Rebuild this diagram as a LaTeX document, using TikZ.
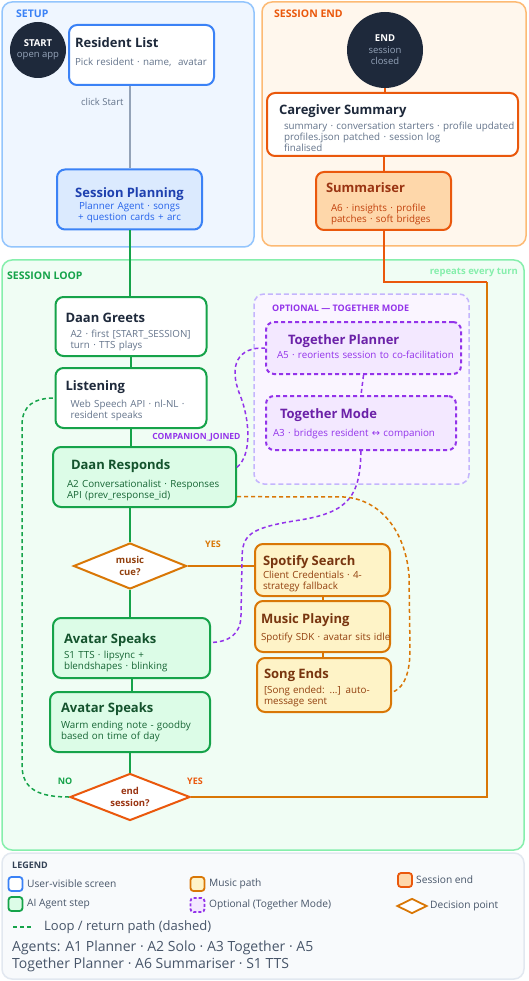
\documentclass[tikz,border=0pt]{standalone}
\usepackage{fontspec}
\setmainfont{Open Sans}
\newfontfamily\symfont{DejaVu Sans}
\usetikzlibrary{shapes.geometric}

\definecolor{navy}{HTML}{1E293B}
\definecolor{slate}{HTML}{64748B}
\definecolor{greyln}{HTML}{94A3B8}
\definecolor{blu}{HTML}{3B82F6}
\definecolor{blubg}{HTML}{EFF6FF}
\definecolor{bluln}{HTML}{93C5FD}
\definecolor{blufill}{HTML}{DBEAFE}
\definecolor{bluttl}{HTML}{1E40AF}
\definecolor{blusub}{HTML}{2563EB}
\definecolor{orng}{HTML}{EA580C}
\definecolor{orngbg}{HTML}{FFF7ED}
\definecolor{orngln}{HTML}{FDBA74}
\definecolor{orngfill}{HTML}{FED7AA}
\definecolor{orngttl}{HTML}{9A3412}
\definecolor{orngsub}{HTML}{C2410C}
\definecolor{grn}{HTML}{16A34A}
\definecolor{grnbg}{HTML}{F0FDF4}
\definecolor{grnln}{HTML}{86EFAC}
\definecolor{grnfill}{HTML}{DCFCE7}
\definecolor{grnttl}{HTML}{14532D}
\definecolor{grnsub}{HTML}{166534}
\definecolor{purp}{HTML}{9333EA}
\definecolor{purpbg}{HTML}{FAF5FF}
\definecolor{purpln}{HTML}{C4B5FD}
\definecolor{purpfill}{HTML}{F3E8FF}
\definecolor{purpttl}{HTML}{6B21A8}
\definecolor{amb}{HTML}{D97706}
\definecolor{ambfill}{HTML}{FEF3C7}
\definecolor{ambttl}{HTML}{78350F}
\definecolor{ambsub}{HTML}{92400E}
\definecolor{legbg}{HTML}{F8FAFC}
\definecolor{legln}{HTML}{E2E8F0}
\definecolor{legtxt}{HTML}{475569}
\definecolor{legttl}{HTML}{334155}
\colorlet{subc}{slate}

\newcommand\bx[3][4pt]{{\fontsize{13}{15}\selectfont\bfseries #2}\\[#1]{\color{subc}\begin{tabular}[t]{@{}l@{}}#3\end{tabular}}}

\tikzset{
  panel/.style={line width=1.5pt,rounded corners=10},
  seclbl/.style={anchor=west,inner sep=0pt,font=\fontsize{10.5}{12}\selectfont\bfseries},
  sz/.style n args={5}{minimum width=#1pt,minimum height=#2pt,text width=#3pt,text height=#4pt,text depth=#5pt},
  box/.style={draw,rectangle,rounded corners=8,line width=2pt,align=left,inner sep=0pt,
    font=\fontsize{9.8}{11}\selectfont},
  screen/.style={box,draw=blu,fill=white,text=navy,execute at begin node={\colorlet{subc}{slate}}},
  loopscreen/.style={box,draw=grn,fill=white,text=navy,execute at begin node={\colorlet{subc}{slate}}},
  agent/.style={box,draw=grn,fill=grnfill,text=grnttl,execute at begin node={\colorlet{subc}{grnsub}}},
  music/.style={box,draw=amb,fill=ambfill,text=ambttl,execute at begin node={\colorlet{subc}{ambsub}}},
  optional/.style={box,dashed,dash pattern=on 4pt off 3pt,draw=purp,fill=purpfill,text=purpttl,
    execute at begin node={\colorlet{subc}{purp}}},
  endbox/.style={box,draw=orng,fill=orngfill,text=orngttl,execute at begin node={\colorlet{subc}{orngsub}}},
  terminal/.style={circle,fill=navy,text=white,align=center,inner sep=0pt,
    font=\fontsize{9.5}{11}\selectfont},
  decision/.style={diamond,aspect=2.4,draw,line width=2pt,fill=white,inner sep=0pt,align=center,
    font=\fontsize{9.5}{11.5}\selectfont\bfseries},
  flow/.style={line width=2pt,draw=grn},
  ret/.style={line width=1.5pt,dash pattern=on 4pt off 3pt},
  tag/.style={inner sep=0pt,font=\fontsize{9}{10}\selectfont\bfseries},
  legsq/.style={rectangle,rounded corners=3,line width=1.8pt,minimum size=14pt,inner sep=0pt},
  legtext/.style={anchor=west,inner sep=0pt,text=legtxt,font=\fontsize{10.2}{12}\selectfont},
}

\begin{document}
\begin{tikzpicture}[x=1pt,y=-1pt]
\useasboundingbox[fill=white](0,0)rectangle(528,981);
%panels
\path[draw=bluln,fill=blubg,panel](2,2)rectangle(254,247);
\path[draw=orngln,fill=orngbg,panel](262,2)rectangle(526,246);
\path[draw=grnln,fill=grnbg,panel](2,260)rectangle(524,850);
\path[draw=purpln,fill=purpbg,panel,dash pattern=on 5pt off 3pt](254,294)rectangle(469,484);
\path[draw=legln,fill=legbg,panel](2,853)rectangle(524,979);
\node[seclbl,text=blu](setuplbl)at(16,13.5){SETUP};
\node[seclbl,text=orng](endlbl)at(274,13.5){SESSION END};
\node[seclbl,text=grn](looplbl)at(7,276){SESSION LOOP};
\node[seclbl,anchor=east,text=grnln,font=\fontsize{9.5}{11}\selectfont\bfseries](repeatlbl)at(518,272){repeats every turn};
\node[tag,anchor=west,text=purp](optlbl)at(272,308){OPTIONAL — TOGETHER MODE};

%setup
\node[terminal,minimum size=56pt](start)at(38,50){{\bfseries START}\\{\color{greyln}open app}};
\node[screen,sz={145}{60}{133}{23}{37}](rl)at(141.5,55){\bx[7pt]{Resident List}{Pick resident · name,\ \ avatar}};
\node[screen,sz={145}{60}{133}{28}{32},fill=blufill,text=bluttl,align=center](sp)at(129.5,199.5)
  {{\fontsize{13}{15}\selectfont\bfseries Session Planning}\\[1pt]{\color{blusub}Planner Agent · songs}\\{\color{blusub}+ question cards + arc}};
\path[draw=greyln,line width=2pt](sp.north|-rl.south)to node[pos=0.19,left=5pt,inner sep=0pt,text=slate,font=\fontsize{9.5}{11}\selectfont](clk){click Start}(sp.north);

%session end
\node[terminal,minimum size=76pt](endc)at(385,50){{\bfseries END}\\[1pt]{\color{greyln}session}\\{\color{greyln}closed}};
\node[screen,draw=orng,sz={251}{63}{227}{22}{41}](cg)at(392.5,124.5)
  {\bx{Caregiver Summary}{\hspace*{5pt}summary · conversation starters · profile updated\\\hspace*{5pt}profiles.json patched · session log\\\hspace*{5pt}finalised}};
\node[endbox,sz={135}{58}{115}{21}{37}](sm)at(383.5,201){\bx[8pt]{Summariser}{\hspace*{5pt}A6 · insights · profile\\\hspace*{5pt}patches · soft bridges}};
\path[draw=orng,line width=2pt](endc.south)to(endc.south|-cg.north);
\path[draw=orng,line width=2pt](sm.north|-cg.south)to(sm.north);

%session loop
\node[loopscreen,sz={151}{59}{131}{25}{34}](dg)at(131,326.5){\bx{Daan Greets}{\hspace*{5pt}A2 · first [START\_SESSION]\\\hspace*{5pt}turn · TTS plays}};
\node[loopscreen,sz={151}{60}{131}{22}{38}](ls)at(131,398){\bx[6pt]{Listening}{\hspace*{5pt}Web Speech API · nl-NL ·\\\hspace*{5pt}resident speaks}};
\node[agent,sz={183}{60}{155}{22}{38}](dr)at(144.5,477){\bx[7pt]{\hspace*{4pt}Daan Responds}{A2 Conversationalist · Responses\\API (prev\_response\_id)}};
\node[decision,draw=amb,text=ambsub,minimum width=113pt,minimum height=46pt](mc)at(130,566){music\\cue?};
\node[agent,sz={157}{60}{135}{25}{35}](as1)at(131.5,648){\bx{Avatar Speaks}{S1 TTS · lipsync +\\blendshapes · blinking}};
\node[agent,sz={160}{60}{138}{20}{40}](as2)at(130,722){\bx[5pt]{Avatar Speaks}{Warm ending note - goodby\\based on time of day}};
\node[decision,draw=orng,text=orngttl,minimum width=120pt,minimum height=47pt](es)at(130,797){end\\session?};
\path[flow](sp.south)to(sp.south|-dg.north);
\path[flow](dg.south)to(ls.north);
\path[flow](ls.south)to(ls.south|-dr.north);
\path[flow](mc.north|-dr.south)to(mc.north);
\path[flow](mc.south)to(mc.south|-as1.north);
\path[flow](as1.south)to(as1.south|-as2.north);
\path[flow](as2.south)to(es.north);
\node[tag,text=purp,font=\fontsize{8.5}{10}\selectfont\bfseries](cj)at(196.5,437.5){COMPANION\_JOINED};
\node[tag,text=amb](yes1)at(213,544){YES};
\node[tag,text=grn](no)at(65,781){NO};
\node[tag,text=orng](yes2)at(195,781){YES};

%together mode
\node[optional,sz={195}{52}{173}{22}{30}](tp)at(363.5,348){\bx[3pt]{\hspace*{11pt}Together Planner}{A5 · reorients session to co-facilitation}};
\node[optional,sz={190}{54}{176}{22}{32}](tm)at(361,423){\bx[7pt]{\hspace*{7pt}Together Mode}{A3 · bridges resident {\symfont ↔} companion}};
\path[draw=purp,ret](tp.south)to(tm.north);

%music
\node[music,sz={135}{52}{119}{21}{31}](ss)at(322.5,570){\bx[2pt]{Spotify Search}{Client Credentials · 4-\\strategy fallback}};
\node[music,sz={135}{51}{123}{22}{29}](mp)at(322.5,626.5){\bx[6pt]{Music Playing}{Spotify SDK · avatar sits idle}};
\node[music,sz={134}{54}{120}{20}{34}](se)at(324,685){\bx{Song Ends}{[Song ended: ...] auto-\\message sent}};
\path[draw=amb,line width=2pt](mc.east)to(mc.east-|ss.west);
\path[draw=amb,line width=2pt](ss.south)to(ss.south|-mp.north);
\path[draw=amb,line width=2pt](mp.south)to(mp.south|-se.north);

%return paths
\coordinate(turn)at(487,282);
\path[draw=amb,line width=2pt](es.east)-|(turn);
\path[draw=orng,line width=2pt](turn)-|(sm.south);
\path[draw=grn,ret](es.west)..controls(40,797)and(22,790)..(22,765)--(22,425)..controls(22,405)and(35,398)..(ls.west);
\path[draw=purp,ret](dr.6)..controls(252,455)and(250,420)..(240,395)..controls(228,365)and(238,347)..(tp.west);
\path[draw=purp,ret](tm.south)..controls(360,495)and(350,512)..(300,520)..controls(248,528)and(242,535)..(242,560)--(241,615)..controls(241,635)and(228,642)..(as1.4);
\path[draw=amb,ret](dr.-12)--(345,497)..controls(380,500)and(405,530)..(409,575)--(410,650)..controls(410,680)and(400,690)..(se.-6);

%legend
\node[tag,anchor=west,text=legttl](leglbl)at(12,865){LEGEND};
\node[legsq,draw=blu,fill=white](lgscr)at(15.5,884){};
\node[legtext](lgscrt)at(27,884){User-visible screen};
\node[legsq,draw=grn,fill=grnfill](lgag)at(15.5,904){};
\node[legtext](lgagt)at(27,904){AI Agent step};
\node[legsq,draw=amb,fill=ambfill](lgmu)at(197.5,884){};
\node[legtext](lgmut)at(209,884){Music path};
\node[legsq,draw=purp,fill=purpfill,dash pattern=on 3pt off 2pt](lgop)at(197.5,905){};
\node[legtext](lgopt)at(209,905){Optional (Together Mode)};
\node[legsq,draw=orng,fill=orngfill](lgend)at(405,880){};
\node[legtext](lgendt)at(416,880){Session end};
\node[diamond,aspect=2,draw=amb,fill=white,line width=1.8pt,inner sep=0pt,minimum width=30pt,minimum height=15pt](lgdec)at(412,906){};
\node[legtext](lgdect)at(430,906){Decision point};
\coordinate(lgl1)at(13,927);
\coordinate(lgl2)at(32,927);
\path[draw=grn,ret](lgl1)to(lgl2);
\node[legtext,font=\fontsize{13}{15}\selectfont](lglt)at(44,927){Loop / return path (dashed)};
\node[legtext,anchor=north west,align=left,font=\fontsize{14}{17}\selectfont](agents)at(12,941)
  {Agents: A1 Planner · A2 Solo · A3 Together · A5\\Together Planner · A6 Summariser · S1 TTS};
\end{tikzpicture}
\end{document}
